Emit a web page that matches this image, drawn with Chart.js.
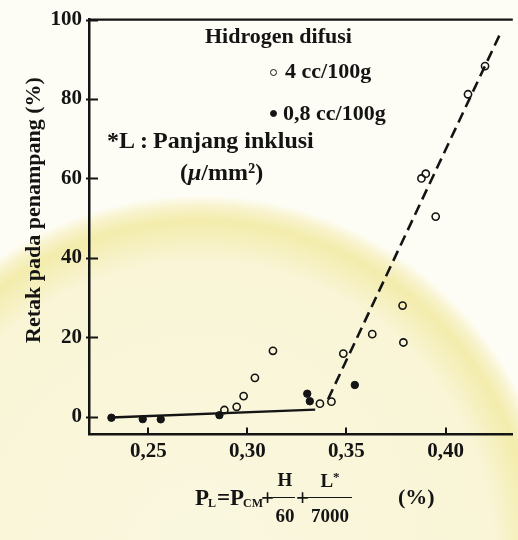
<!DOCTYPE html>
<html><head><meta charset="utf-8">
<script src="https://cdn.jsdelivr.net/npm/chart.js@4.4.0/dist/chart.umd.min.js"></script>
<style>
html,body{margin:0;padding:0;}
body{width:518px;height:540px;overflow:hidden;background:#fefdf5;}
#wrap{position:relative;width:518px;height:540px;
 background:
  radial-gradient(ellipse 360px 365px at 200px 560px, rgba(250,247,224,1) 0%, rgba(249,245,214,1) 82%, rgba(243,236,172,1) 93%, rgba(248,243,205,1) 97%, rgba(254,253,245,0) 100%),
  #fefdf5;}
canvas{position:absolute;left:0;top:0;}
.t{position:absolute;font-family:'Liberation Serif','Times New Roman',serif;font-weight:bold;color:#141414;white-space:nowrap;line-height:1;}
.c{text-align:center;}
.bar{position:absolute;height:1.6px;background:#141414;}
.mk{position:absolute;box-sizing:border-box;width:7px;height:7px;border-radius:50%;border:1.5px solid #141414;}
</style></head>
<body>
<div id="wrap">
<canvas id="c" width="518" height="540"></canvas>

<div class="t" style="left:205px;top:25px;font-size:22px;">Hidrogen difusi</div>
<div class="mk" style="left:269.5px;top:68.5px;"></div>
<div class="t" style="left:285px;top:60px;font-size:22px;">4 cc/100g</div>
<div class="mk" style="left:269.5px;top:109.5px;background:#141414;"></div>
<div class="t" style="left:283px;top:102px;font-size:22px;">0,8 cc/100g</div>

<div class="t" style="left:107px;top:128px;font-size:24px;">*L</div>
<div class="t" style="left:140px;top:128px;font-size:24px;">:</div>
<div class="t" style="left:153px;top:128px;font-size:24px;">Panjang inklusi</div>
<div class="t" style="left:180px;top:160px;font-size:24px;">(<i>μ</i>/mm²)</div>

<div class="t" style="left:195px;top:486px;font-size:23px;">P</div>
<div class="t" style="left:208px;top:497px;font-size:12px;">L</div>
<div class="t" style="left:217px;top:486px;font-size:23px;">=</div>
<div class="t" style="left:230px;top:486px;font-size:23px;">P</div>
<div class="t" style="left:243px;top:497px;font-size:12px;">CM</div>
<div class="t" style="left:261px;top:486px;font-size:23px;">+</div>
<div class="t c" style="left:273px;width:24px;top:470px;font-size:19px;">H</div>
<div class="bar" style="left:273px;top:496.5px;width:22px;"></div>
<div class="t c" style="left:273px;width:24px;top:506px;font-size:19px;">60</div>
<div class="t" style="left:296px;top:486px;font-size:23px;">+</div>
<div class="t c" style="left:308px;width:44px;top:470px;font-size:19px;">L<span style="font-size:13px;vertical-align:6px;">*</span></div>
<div class="bar" style="left:308px;top:496.5px;width:44px;"></div>
<div class="t c" style="left:308px;width:44px;top:506px;font-size:19px;">7000</div>
<div class="t" style="left:398px;top:486px;font-size:22px;">(%)</div>
</div>

<script>
// ---- data ----
const xTicks = [0.25, 0.30, 0.35, 0.40];
const yTicks = [0, 20, 40, 60, 80, 100];
const xMin = 0.2201, xMax = 0.4339;
const yMin = -4.47, yMax = 100;

// Hidrogen difusi 4 cc/100g (open circles)
const openX = [0.2884, 0.2946, 0.2981, 0.3038, 0.3129, 0.3366, 0.3424, 0.3484, 0.3630, 0.3783, 0.3787, 0.3878, 0.3900, 0.3950, 0.4113, 0.4199];
const openY = [1.7, 2.5, 5.2, 9.8, 16.6, 3.3, 3.8, 15.9, 20.8, 28.0, 18.7, 60.0, 61.2, 50.4, 81.2, 88.3];

// Hidrogen difusi 0,8 cc/100g (filled dots)
const filledX = [0.2314, 0.2472, 0.2563, 0.2859, 0.3302, 0.3315, 0.3542];
const filledY = [-0.25, -0.6, -0.65, 0.4, 5.8, 3.9, 8.0];

// trend lines
const lowFitX = [0.2311, 0.3342];
const lowFitY = [-0.2, 1.8];
const highFitX = [0.3407, 0.4274];
const highFitY = [4.4, 96.3];

const yTitle = 'Retak pada penampang (%)';

const toPts = (xs, ys) => xs.map((x, i) => ({x: x, y: ys[i]}));
const INK = '#141414';
const FONT = "'Liberation Serif','Times New Roman',serif";

const frame = {
  id: 'frame',
  afterDraw(chart) {
    const {ctx, chartArea: {left, right, top, bottom}, scales: {x, y}} = chart;
    ctx.save();
    ctx.strokeStyle = INK;
    ctx.lineWidth = 2.3;
    ctx.beginPath();
    ctx.moveTo(left - 1, top);
    ctx.lineTo(right, top);
    ctx.stroke();
    ctx.lineWidth = 2;
    ctx.beginPath();
    yTicks.forEach(v => {
      const py = Math.round(y.getPixelForValue(v)) + 0.5;
      ctx.moveTo(left - 3, py);
      ctx.lineTo(left + 9, py);
    });
    xTicks.forEach(v => {
      const px = Math.round(x.getPixelForValue(v));
      ctx.moveTo(px, bottom);
      ctx.lineTo(px, bottom - 7);
    });
    ctx.stroke();
    ctx.fillStyle = INK;
    ctx.font = "bold 22px " + FONT;
    ctx.textAlign = 'center';
    ctx.textBaseline = 'alphabetic';
    ctx.translate(40, 210);
    ctx.rotate(-Math.PI / 2);
    ctx.fillText(yTitle, 0, 0);
    ctx.restore();
  }
};

Chart.defaults.font.family = FONT;
Chart.defaults.font.weight = 'bold';
Chart.defaults.color = INK;

new Chart(document.getElementById('c'), {
  type: 'scatter',
  data: {
    datasets: [
      {label: '4 cc/100g', data: toPts(openX, openY), pointRadius: 3.6, pointHoverRadius: 3.6,
       pointBorderWidth: 1.6, borderColor: INK, backgroundColor: 'rgba(0,0,0,0)'},
      {label: '0,8 cc/100g', data: toPts(filledX, filledY), pointRadius: 3.7, pointHoverRadius: 3.7,
       pointBorderWidth: 1, borderColor: INK, backgroundColor: INK},
      {label: 'fit low', data: toPts(lowFitX, lowFitY), showLine: true, borderColor: INK, borderWidth: 2.4,
       pointRadius: 0, fill: false},
      {label: 'fit high', data: toPts(highFitX, highFitY), showLine: true, borderColor: INK, borderWidth: 2.6,
       borderDash: [11, 6], pointRadius: 0, fill: false}
    ]
  },
  options: {
    responsive: false,
    animation: false,
    events: [],
    layout: {padding: {top: 18, left: 0, right: 0, bottom: 0}},
    plugins: {legend: {display: false}, tooltip: {enabled: false}},
    scales: {
      x: {
        type: 'linear', min: xMin, max: xMax,
        afterBuildTicks: s => { s.ticks = xTicks.map(v => ({value: v})); },
        afterFit: s => { s.height = 105.5; },
        grid: {display: false, drawTicks: false},
        border: {display: true, color: INK, width: 2.5},
        ticks: {autoSkip: false, maxRotation: 0, padding: 4, color: INK,
                font: {size: 21, weight: 'bold'},
                callback: v => Number(v).toFixed(2).replace('.', ',')}
      },
      y: {
        type: 'linear', min: yMin, max: yMax,
        afterBuildTicks: s => { s.ticks = yTicks.map(v => ({value: v})); },
        afterFit: s => { s.width = 89; },
        grid: {display: false, drawTicks: false},
        border: {display: true, color: INK, width: 2.5},
        ticks: {autoSkip: false, padding: 7, color: INK,
                font: {size: 21, weight: 'bold'},
                callback: v => String(v)}
      }
    }
  },
  plugins: [frame]
});
</script>
</body></html>
